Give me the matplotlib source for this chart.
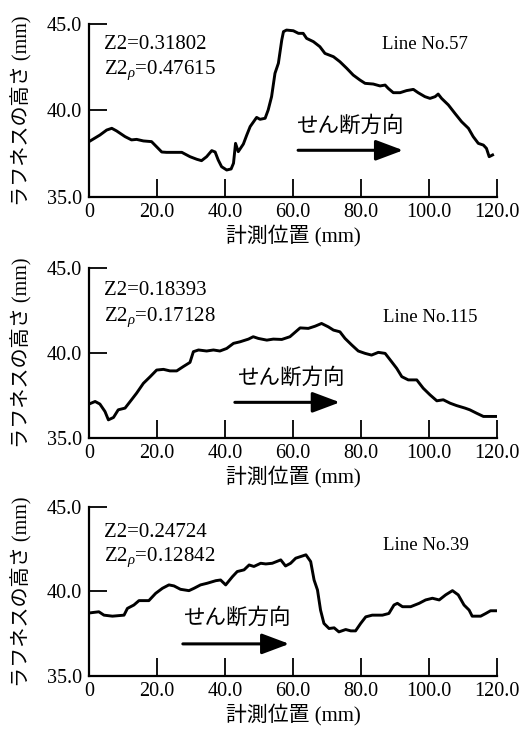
import matplotlib
matplotlib.use("Agg")
import matplotlib.pyplot as plt

plt.rcParams['font.family'] = ['Liberation Serif', 'Noto Sans CJK JP']
plt.rcParams['mathtext.fontset'] = 'custom'
plt.rcParams['mathtext.rm'] = 'Liberation Serif'
plt.rcParams['mathtext.it'] = 'Liberation Serif:italic'

# ---- data ----
x57 = [0, 3.2, 5.2, 6.7, 8.1, 10.6, 12.5, 14.0, 16.0, 18.4, 19.9, 21.4, 22.8, 27.3, 29.7, 31.7, 33.1,
       34.6, 36.1, 37.1, 38.0, 39.0, 40.5, 41.8, 42.5, 43.1, 43.9, 45.4, 46.4, 47.4, 49.3, 50.3, 51.8,
       52.7, 53.7, 54.7, 55.7, 56.7, 57.2, 58.1, 60.1, 61.6, 63.0, 64.0, 66.0, 67.9, 69.4, 71.9, 73.8,
       75.8, 77.7, 79.7, 81.2, 83.6, 85.6, 87.1, 88.0, 89.5, 91.5, 93.4, 95.4, 96.8, 98.8, 100.3, 101.8,
       102.7, 103.7, 105.7, 107.6, 109.6, 111.6, 113.0, 114.5, 116.0, 116.9, 117.7, 118.7]
y57 = [38.2, 38.58, 38.87, 38.97, 38.82, 38.49, 38.3, 38.33, 38.24, 38.2, 37.9, 37.6, 37.58, 37.58, 37.33,
       37.18, 37.1, 37.33, 37.68, 37.6, 37.14, 36.75, 36.56, 36.62, 36.95, 38.1, 37.62, 38.06, 38.58, 39.07,
       39.6, 39.49, 39.55, 40.03, 40.8, 42.15, 42.73, 44.08, 44.56, 44.65, 44.61, 44.46, 44.46, 44.17, 43.98,
       43.69, 43.3, 43.11, 42.82, 42.44, 42.05, 41.76, 41.57, 41.53, 41.42, 41.47, 41.28, 41.03, 41.03, 41.15,
       41.22, 41.03, 40.8, 40.7, 40.8, 40.95, 40.7, 40.32, 39.84, 39.35, 38.97, 38.49, 38.1, 38.0, 37.81,
       37.33, 37.43]

x115 = [0, 1.8, 3.2, 4.7, 5.7, 7.2, 8.6, 10.6, 12.5, 14.0, 16.0, 18.0, 19.9, 21.9, 23.8, 25.8, 27.7, 29.7,
        30.7, 32.2, 34.6, 36.6, 38.5, 40.5, 42.5, 44.4, 46.9, 48.3, 49.8, 52.3, 54.2, 56.7, 59.1, 62.1, 64.5,
        66.5, 68.4, 70.4, 71.9, 73.8, 75.3, 77.3, 79.2, 81.2, 83.1, 85.1, 87.1, 89.0, 90.5, 92.0, 93.9, 96.4,
        98.3, 100.3, 102.3, 104.2, 106.2, 108.1, 110.6, 112.0, 114.0, 116.0, 117.9, 119.9]
y115 = [37.0, 37.15, 37.0, 36.56, 36.07, 36.21, 36.66, 36.76, 37.25, 37.64, 38.22, 38.61, 39.0, 39.04, 38.95,
        38.95, 39.2, 39.45, 40.08, 40.18, 40.12, 40.18, 40.12, 40.27, 40.57, 40.66, 40.82, 40.96, 40.86, 40.76,
        40.82, 40.8, 40.96, 41.48, 41.45, 41.58, 41.74, 41.54, 41.35, 41.25, 40.86, 40.47, 40.12, 39.98, 39.88,
        40.04, 39.98, 39.49, 39.1, 38.61, 38.42, 38.42, 37.93, 37.54, 37.19, 37.25, 37.05, 36.91, 36.76, 36.66,
        36.46, 36.27, 36.27, 36.27]

x39 = [0.5, 2.9, 4.4, 6.9, 10.3, 11.3, 13.2, 14.7, 17.6, 19.6, 21.6, 23.5, 25.0, 26.9, 29.4, 30.9, 32.8,
       34.8, 37.3, 38.7, 40.2, 42.2, 43.6, 45.6, 47.1, 48.5, 50.5, 52.0, 53.9, 56.4, 57.8, 59.3, 60.8, 62.3,
       63.8, 65.2, 66.2, 67.2, 68.1, 69.1, 70.6, 72.1, 73.5, 75.5, 77.0, 78.4, 79.9, 81.4, 83.3, 86.3, 88.2,
       89.7, 90.7, 92.2, 94.6, 97.1, 99.0, 101.0, 103.0, 104.9, 106.9, 108.6, 110.3, 111.8, 112.7, 115.2,
       116.7, 118.1, 119.6]
y39 = [38.74, 38.8, 38.6, 38.54, 38.6, 39.0, 39.2, 39.46, 39.46, 39.89, 40.19, 40.39, 40.33, 40.13, 40.05,
       40.19, 40.39, 40.49, 40.64, 40.68, 40.39, 40.88, 41.18, 41.28, 41.57, 41.48, 41.67, 41.63, 41.67, 41.87,
       41.51, 41.67, 41.97, 42.07, 42.17, 41.77, 40.68, 40.09, 38.9, 38.11, 37.81, 37.85, 37.61, 37.75, 37.67,
       37.67, 38.11, 38.5, 38.6, 38.6, 38.7, 39.2, 39.3, 39.1, 39.1, 39.3, 39.5, 39.6, 39.5, 39.8, 40.05,
       39.8, 39.2, 38.9, 38.54, 38.54, 38.7, 38.86, 38.86]

line_names = ["Line No.57", "Line No.115", "Line No.39"]
z2_values = ["0.31802", "0.18393", "0.24724"]
z2p_values = ["0.47615", "0.17128", "0.12842"]
x_ticks = [0, 20, 40, 60, 80, 100, 120]
x_tick_labels = ["0", "20.0", "40.0", "60.0", "80.0", "100.0", "120.0"]
y_ticks = [35, 40, 45]
y_tick_labels = ["35.0", "40.0", "45.0"]
xlabel = "計測位置 (mm)"
ylabel = "ラフネスの高さ (mm)"
shear_label = "せん断方向"

# layout/style settings (not data)
panels = [
    dict(x=x57, y=y57, rect=[0.1705, 0.7309, 0.7816, 0.2363],
         arrow=(61.5, 92.4, 37.7), arrow_text=(61.0, 39.1),
         z_pos=(4.5, 43.8, 42.3), line_pos=(86.2, 43.8)),
    dict(x=x115, y=y115, rect=[0.1705, 0.4016, 0.7816, 0.2322],
         arrow=(42.9, 73.8, 37.1), arrow_text=(43.5, 38.5),
         z_pos=(4.5, 43.7, 42.1), line_pos=(86.5, 42.1)),
    dict(x=x39, y=y39, rect=[0.1705, 0.0765, 0.7816, 0.2309],
         arrow=(27.6, 58.9, 36.9), arrow_text=(27.8, 38.4),
         z_pos=(4.5, 43.5, 42.0), line_pos=(86.5, 42.75)),
]

fig = plt.figure(figsize=(5.22, 7.32), dpi=100)

for i, p in enumerate(panels):
    ax = fig.add_axes(p['rect'])
    ax.plot(p['x'], p['y'], color='black', lw=2.1, solid_joinstyle='round')
    ax.set_xlim(0, 120)
    ax.set_ylim(35, 45)
    ax.set_xticks(x_ticks)
    ax.set_xticklabels(x_tick_labels)
    ax.set_yticks(y_ticks)
    ax.set_yticklabels(y_tick_labels)
    ax.spines['top'].set_visible(False)
    ax.spines['right'].set_visible(False)
    ax.spines['left'].set_linewidth(1.6)
    ax.spines['bottom'].set_linewidth(1.6)
    ax.tick_params(axis='both', direction='in', length=13, width=1.3, labelsize=14.5, pad=4)
    ax.tick_params(axis='y', pad=5)
    ax.set_xlabel(xlabel, fontsize=15, labelpad=2)
    ax.set_ylabel(ylabel, fontsize=14.5, labelpad=10)

    x0, x1, ya = p['arrow']
    ax.annotate("", xy=(x1, ya), xytext=(x0, ya),
                arrowprops=dict(arrowstyle='-|>,head_length=1.2,head_width=0.45',
                                mutation_scale=14, lw=2.2, color='black',
                                shrinkA=0, shrinkB=0))
    ax.text(p['arrow_text'][0], p['arrow_text'][1], shear_label, fontsize=15.5,
            ha='left', va='center')
    zx, zy1, zy2 = p['z_pos']
    ax.text(zx, zy1, "Z2=" + z2_values[i], fontsize=15, ha='left', va='center')
    ax.text(zx, zy2, "Z2$_{\\it{\\rho}}$=" + z2p_values[i], fontsize=15, ha='left', va='center')
    ax.text(p['line_pos'][0], p['line_pos'][1], line_names[i], fontsize=13.5,
            ha='left', va='center')

fig.savefig("out.png", dpi=100)
